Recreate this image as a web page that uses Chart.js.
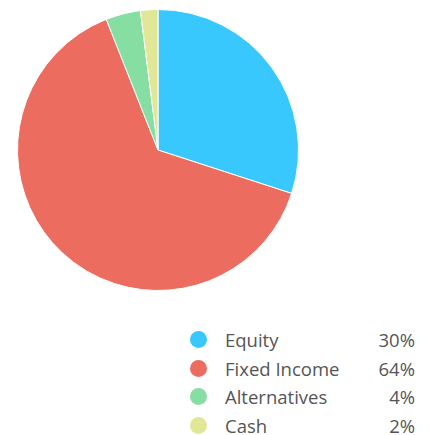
<!DOCTYPE html>
<html>
<head>
<meta charset="utf-8">
<script src="https://cdn.jsdelivr.net/npm/chart.js@4"></script>
<style>
  body { margin: 0; background: #fff; font-family: "Open Sans", sans-serif; }
  #wrap { position: absolute; left: 0; top: 9px; width: 316px; height: 282px; }
  #legend { position: absolute; left: 190px; top: 325px; width: 225px; }
  .row { display: flex; align-items: center; height: 28.7px; font-size: 18.5px; color: #555; }
  .dot { width: 17px; height: 17px; border-radius: 50%; margin-right: 18px; flex: none; }
  .lbl { flex: 1; }
  .val { text-align: right; }
</style>
</head>
<body>
<div id="wrap"><canvas id="allocation"></canvas></div>
<div id="legend"></div>
<script>
// 資産配分
var labelArray = ['Equity', 'Fixed Income', 'Alternatives', 'Cash'];
var valueArray = [30, 64, 4, 2];
var colorArray = ['#38c8fd', '#ec6c60', '#86dea2', '#e1e797'];

var allocationChart = new Chart(document.getElementById('allocation'), {
    type: 'pie',
    data: {
        labels: labelArray,
        datasets: [{
            backgroundColor: colorArray,
            borderColor: '#fff',
            borderWidth: 1,
            data: valueArray
        }]
    },
    options: {
        responsive: true,
        maintainAspectRatio: false,
        animation: false,
        plugins: {
            legend: false,
            tooltip: { enabled: false }
        }
    }
});

// 凡例
var legend = document.getElementById('legend');
labelArray.forEach(function (name, i) {
    var row = document.createElement('div');
    row.className = 'row';
    row.innerHTML = '<span class="dot" style="background:' + colorArray[i] + '"></span>' +
        '<span class="lbl">' + name + '</span>' +
        '<span class="val">' + valueArray[i] + '%</span>';
    legend.appendChild(row);
});
</script>
</body>
</html>
